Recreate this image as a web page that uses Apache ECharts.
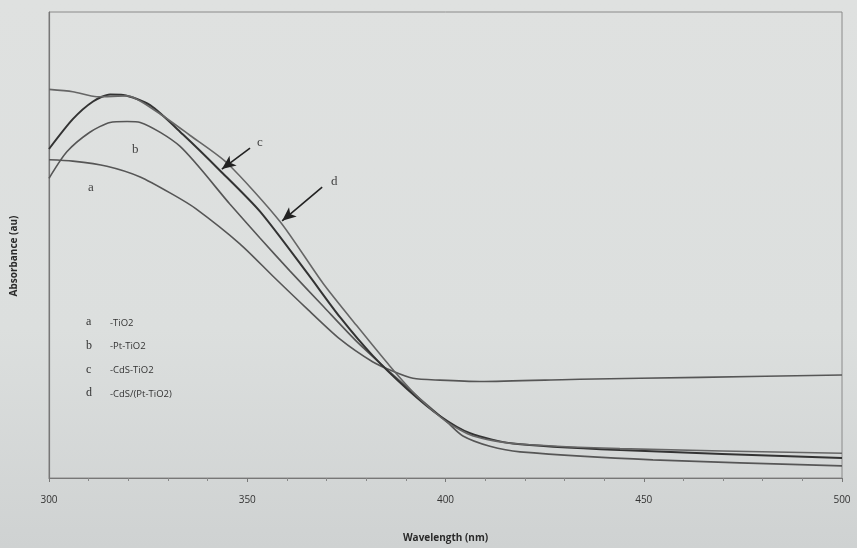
<!DOCTYPE html>
<html>
<head>
<meta charset="utf-8">
<script src="https://cdn.jsdelivr.net/npm/echarts@6/dist/echarts.min.js"></script>
<style>
  html, body { margin: 0; padding: 0; }
  body {
    width: 857px; height: 548px; overflow: hidden;
    background: linear-gradient(180deg, #dfe1e0 0%, #dcdfde 60%, #cfd2d2 100%);
  }
  #chart { width: 857px; height: 548px; }
</style>
</head>
<body>
<div id="chart"></div>
<script>
// wavelength (nm) / absorbance (au) pairs
const tio2 = [
  [300, 0.683], [306, 0.680], [314.6, 0.669], [323, 0.646], [331.3, 0.608],
  [337, 0.578], [348.2, 0.502], [356.5, 0.433], [365.1, 0.363], [373.4, 0.298],
  [381.7, 0.249], [386.8, 0.229], [391.8, 0.214], [398.6, 0.210], [408.7, 0.207],
  [433.9, 0.212], [464.2, 0.216], [500, 0.221]
];
const ptTio2 = [
  [300, 0.643], [304.5, 0.700], [310.3, 0.742], [315.4, 0.763], [319.7, 0.765],
  [323, 0.763], [333, 0.712], [345.6, 0.588], [353.2, 0.515], [360.8, 0.444],
  [369.1, 0.369], [377.7, 0.292], [386, 0.227], [393.6, 0.170], [400.4, 0.120],
  [404.4, 0.090], [411.2, 0.068], [418.8, 0.056], [452.3, 0.039], [500, 0.026]
];
const cdsTio2 = [
  [300, 0.706], [306, 0.770], [311.1, 0.808], [315.4, 0.823], [318.7, 0.822],
  [325.5, 0.800], [333.8, 0.737], [343.1, 0.660], [353.2, 0.572], [365.1, 0.440],
  [373.4, 0.345], [381.7, 0.262], [390.3, 0.191], [398.6, 0.133], [406.2, 0.096],
  [417, 0.074], [444, 0.060], [500, 0.043]
];
const cdsPtTio2 = [
  [300, 0.834], [306, 0.829], [312.1, 0.818], [319.7, 0.820], [327.2, 0.786],
  [335.6, 0.735], [344.9, 0.676], [358.3, 0.550], [369.1, 0.418], [377.7, 0.326],
  [386, 0.240], [392.8, 0.176], [400.4, 0.120], [407, 0.090], [417, 0.074],
  [444, 0.063], [500, 0.053]
];
const legendRows = [
  ['a', '-TiO2'],
  ['b', '-Pt-TiO2'],
  ['c', '-CdS-TiO2'],
  ['d', '-CdS/(Pt-TiO2)']
];
// arrows pointing at curves c and d: [from, to] in data units
const arrowC = [[350.7, 0.708], [343.6, 0.663]];
const arrowD = [[368.9, 0.624], [358.8, 0.552]];

const lineColor = '#565656';
const serif = '"Liberation Serif", "DejaVu Serif", serif';
const sans = '"Open Sans", "Liberation Sans", sans-serif';

function arrow(pts) {
  return {
    silent: true,
    symbol: ['none', 'arrow'],
    symbolSize: [9, 14],
    lineStyle: { color: '#222', width: 1.6, type: 'solid' },
    label: { show: false },
    data: [[{ coord: pts[0] }, { coord: pts[1] }]]
  };
}

function curve(name, data, color, width, extra) {
  return Object.assign({
    name: name,
    type: 'line',
    data: data,
    smooth: 0.25,
    showSymbol: false,
    lineStyle: { color: color, width: width },
    emphasis: { disabled: true }
  }, extra || {});
}

const graphics = [];
legendRows.forEach((row, i) => {
  const top = 318 + i * 23.7;
  graphics.push({
    type: 'text', left: 86, top: top - 2,
    style: { text: row[0], font: '12px ' + serif, fill: '#333' }
  });
  graphics.push({
    type: 'text', left: 110, top: top,
    style: { text: row[1], font: '9.5px ' + sans, fill: '#333' }
  });
});
graphics.push({ type: 'text', left: 88, top: 181, style: { text: 'a', font: '13px ' + serif, fill: '#444' } });
graphics.push({ type: 'text', left: 132, top: 143, style: { text: 'b', font: '13px ' + serif, fill: '#444' } });
graphics.push({ type: 'text', left: 257, top: 136, style: { text: 'c', font: '13px ' + serif, fill: '#444' } });
graphics.push({ type: 'text', left: 331, top: 175, style: { text: 'd', font: '13px ' + serif, fill: '#444' } });

const chart = echarts.init(document.getElementById('chart'));
chart.setOption({
  backgroundColor: 'transparent',
  animation: false,
  grid: {
    left: 49, right: 15, top: 12, bottom: 66,
    show: true, borderColor: '#8a8a8a', borderWidth: 1
  },
  xAxis: {
    type: 'value',
    min: 300, max: 500, interval: 50,
    name: 'Wavelength (nm)',
    nameLocation: 'middle',
    nameGap: 55,
    nameTextStyle: { fontFamily: sans, fontSize: 10, fontWeight: 'bold', color: '#2a2a2a' },
    axisLine: { lineStyle: { color: '#777', width: 1.2 } },
    axisTick: { show: true, length: 4, lineStyle: { color: '#777' } },
    minorTick: { show: true, splitNumber: 5, length: 3, lineStyle: { color: '#888' } },
    splitLine: { show: false },
    axisLabel: { fontFamily: sans, fontSize: 10, color: '#333', margin: 17 }
  },
  yAxis: {
    type: 'value',
    min: 0, max: 1,
    name: 'Absorbance (au)',
    nameLocation: 'middle',
    nameGap: 30,
    nameTextStyle: { fontFamily: sans, fontSize: 10, fontWeight: 'bold', color: '#2a2a2a', padding: [0, 0, 0, -22] },
    axisLine: { show: true, lineStyle: { color: '#777', width: 1.2 } },
    axisTick: { show: false },
    axisLabel: { show: false },
    splitLine: { show: false }
  },
  graphic: graphics,
  series: [
    curve('TiO2', tio2, lineColor, 1.6),
    curve('Pt-TiO2', ptTio2, lineColor, 1.6),
    curve('CdS-TiO2', cdsTio2, '#333', 2, { markLine: arrow(arrowC) }),
    curve('CdS/(Pt-TiO2)', cdsPtTio2, '#666', 1.6, { markLine: arrow(arrowD) })
  ]
});
</script>
</body>
</html>
